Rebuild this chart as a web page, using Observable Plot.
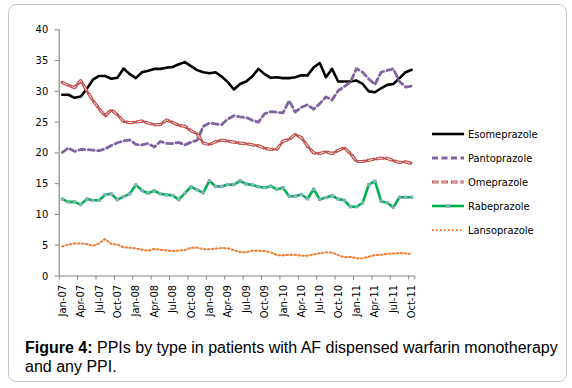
<!DOCTYPE html>
<html><head><meta charset="utf-8">
<script src="https://cdn.jsdelivr.net/npm/d3@7"></script>
<script src="https://cdn.jsdelivr.net/npm/@observablehq/plot@0.6"></script>
<style>
body{margin:0;background:#fff;width:572px;height:388px;overflow:hidden;position:relative;font-family:"DejaVu Sans Condensed","DejaVu Sans",sans-serif;}
#frame{position:absolute;left:8px;top:4px;width:559px;height:378px;border:1.5px solid #c9c9c9;border-radius:8px;box-sizing:border-box;}
#chart{position:absolute;left:0;top:0;}
#legend{position:absolute;left:0;top:0;}
.item{position:absolute;left:432px;height:14px;display:flex;align-items:center;font-size:11px;color:#000;white-space:nowrap;}
.item svg{margin-right:3px;}
#caption{position:absolute;left:25px;top:338px;width:535px;font-family:"Liberation Sans",Arial,sans-serif;font-size:16px;line-height:19px;color:#000;}
</style></head>
<body>
<div id="frame"></div>
<div id="chart"></div>
<div id="legend"></div>
<div id="caption"><span style="font-weight:bold">Figure 4:</span><span> PPIs by type in patients with AF dispensed warfarin monotherapy and any PPI.</span></div>
<script>
const tickLabels = ["Jan-07","Apr-07","Jul-07","Oct-07","Jan-08","Apr-08","Jul-08","Oct-08","Jan-09","Apr-09","Jul-09","Oct-09","Jan-10","Apr-10","Jul-10","Oct-10","Jan-11","Apr-11","Jul-11","Oct-11"];
const yTicks = [0,5,10,15,20,25,30,35,40];
const seriesNames = ["Esomeprazole","Pantoprazole","Omeprazole","Rabeprazole","Lansoprazole"];

const esomeprazole = [29.45,29.45,28.95,29.15,30.4,31.9,32.5,32.5,32.05,32.2,33.7,32.8,32.15,33.1,33.35,33.65,33.65,33.85,33.95,34.4,34.75,34.1,33.45,33.1,32.95,33.1,32.4,31.5,30.3,31.2,31.6,32.45,33.65,32.8,32.2,32.3,32.15,32.15,32.3,32.6,32.6,33.9,34.6,32.3,33.65,31.6,31.6,31.6,31.75,31.2,30.0,29.85,30.5,31.05,31.2,32.15,33.1,33.5];
const pantoprazole = [20.1,20.8,20.25,20.55,20.55,20.45,20.35,20.65,21.2,21.65,21.95,22.1,21.4,21.3,21.55,20.95,21.85,21.55,21.5,21.7,21.3,21.75,22.05,24.3,24.85,24.7,24.6,25.5,26.05,25.85,25.75,25.3,25.0,26.35,26.7,26.6,26.5,28.5,26.65,27.4,27.8,27.1,28.0,29.1,28.6,30.1,30.8,31.5,33.7,33.1,32.0,31.1,33.1,33.4,33.65,31.6,30.7,30.85];
const omeprazole = [31.45,31.0,30.6,31.75,30.1,28.5,27.2,26.0,27.0,26.2,25.1,24.9,25.0,25.2,24.85,24.6,24.6,25.35,24.95,24.5,24.3,23.6,23.1,21.6,21.35,21.8,22.1,21.9,21.75,21.6,21.5,21.3,21.15,20.75,20.55,20.6,21.9,22.2,23.0,22.5,21.1,20.0,19.9,20.2,19.9,20.4,20.85,19.9,18.6,18.6,18.8,19.0,19.15,19.1,18.75,18.45,18.55,18.3];
const rabeprazole = [12.5,12.05,12.05,11.6,12.5,12.3,12.3,13.2,13.35,12.4,12.9,13.35,14.8,13.9,13.45,13.85,13.35,13.2,13.1,12.4,13.45,14.5,14.0,13.5,15.5,14.55,14.55,14.85,14.85,15.45,14.95,14.8,14.5,14.35,14.6,14.1,14.35,12.95,12.95,13.25,12.55,14.1,12.45,12.75,13.05,12.5,12.3,11.25,11.25,11.9,14.85,15.4,12.15,11.9,11.15,12.8,12.8,12.8];
const lansoprazole = [4.8,5.1,5.3,5.3,5.2,4.9,5.3,6.0,5.2,5.1,4.65,4.6,4.5,4.25,4.1,4.4,4.25,4.15,4.05,4.15,4.2,4.6,4.6,4.35,4.35,4.45,4.55,4.5,4.2,3.9,3.85,4.1,4.1,4.05,3.85,3.4,3.35,3.45,3.45,3.3,3.3,3.5,3.7,3.85,3.8,3.4,3.05,3.1,2.9,2.85,3.15,3.4,3.45,3.6,3.65,3.75,3.65,3.6];

const seriesValues = [esomeprazole, pantoprazole, omeprazole, rabeprazole, lansoprazole];
const rows = seriesNames.map((name, s) => seriesValues[s].map((v, i) => ({series: name, i, v})));

const axisGray = "#868686";
const styles = {
  Esomeprazole: [{stroke:"#000000", strokeWidth:2.6}],
  Pantoprazole: [{stroke:"#8064A2", strokeWidth:2.8, strokeDasharray:"6,3.5"}],
  Omeprazole: [{stroke:"#C0504D", strokeWidth:3.2, strokeDasharray:"6.5,3"},
               {stroke:"#ffffff", strokeWidth:1, strokeDasharray:"4.5,5", strokeDashoffset:-1, strokeOpacity:0.85}],
  Rabeprazole: [{stroke:"#00B050", strokeWidth:2.6}],
  Lansoprazole: [{stroke:"#F07D33", strokeWidth:2, strokeDasharray:"1.6,2.4"}]
};

const lineMarks = [];
seriesNames.forEach((name, s) => {
  for (const st of styles[name]) {
    lineMarks.push(Plot.line(rows[s], {x:"i", y:"v", strokeLinejoin:"round", ...st}));
  }
  if (name === "Rabeprazole") {
    lineMarks.push(Plot.dot(rows[s], {x:"i", y:"v", symbol:"square", r:1.9, fill:"#7FB2BC", stroke:"none"}));
  }
});

const chart = Plot.plot({
  width: 572,
  height: 330,
  marginLeft: 58.7,
  marginRight: 157.7,
  marginTop: 29.3,
  marginBottom: 54.5,
  x: {type:"linear", domain:[-0.5, 57.5]},
  y: {domain:[0, 40]},
  style: {fontFamily:'"DejaVu Sans Condensed","DejaVu Sans",sans-serif', fontSize:"11px", color:"#000", background:"transparent", overflow:"visible"},
  marks: [
    Plot.axisY({ticks: yTicks, tickSize:4, tickPadding:7, stroke:axisGray, fill:"#000", label:null}),
    Plot.axisX({ticks: d3.range(-0.5, 58, 3).concat([57.5]), tickSize:4, text:null, stroke:axisGray, label:null}),
    Plot.axisX({ticks: d3.range(0, 58, 3), tickFormat: d => tickLabels[d/3], tickSize:0, tickPadding:9, tickRotate:-90, fill:"#000", label:null}),
    Plot.ruleY([0], {stroke:axisGray, strokeWidth:1.2}),
    Plot.ruleX([-0.5], {stroke:axisGray, strokeWidth:1.2}),
    ...lineMarks
  ]
});
document.getElementById("chart").appendChild(chart);

// legend
const legendY = [134, 158, 182, 206, 230];
const legend = document.getElementById("legend");
seriesNames.forEach((name, s) => {
  const div = document.createElement("div");
  div.className = "item";
  div.style.top = (legendY[s] - 7) + "px";
  const ns = "http://www.w3.org/2000/svg";
  const svg = document.createElementNS(ns, "svg");
  svg.setAttribute("width", 33); svg.setAttribute("height", 14);
  for (const st of styles[name]) {
    const l = document.createElementNS(ns, "line");
    l.setAttribute("x1", 0); l.setAttribute("x2", 32); l.setAttribute("y1", 7); l.setAttribute("y2", 7);
    l.setAttribute("stroke", st.stroke); l.setAttribute("stroke-width", st.strokeWidth);
    if (st.strokeDasharray) l.setAttribute("stroke-dasharray", st.strokeDasharray);
    if (st.strokeDashoffset) l.setAttribute("stroke-dashoffset", st.strokeDashoffset);
    if (st.strokeOpacity) l.setAttribute("stroke-opacity", st.strokeOpacity);
    svg.appendChild(l);
  }
  if (name === "Rabeprazole") {
    const r = document.createElementNS(ns, "rect");
    r.setAttribute("x", 14.2); r.setAttribute("y", 5.2); r.setAttribute("width", 3.6); r.setAttribute("height", 3.6);
    r.setAttribute("fill", "#7FB2BC");
    svg.appendChild(r);
  }
  div.appendChild(svg);
  div.appendChild(document.createTextNode(name));
  legend.appendChild(div);
});
</script>
</body></html>
